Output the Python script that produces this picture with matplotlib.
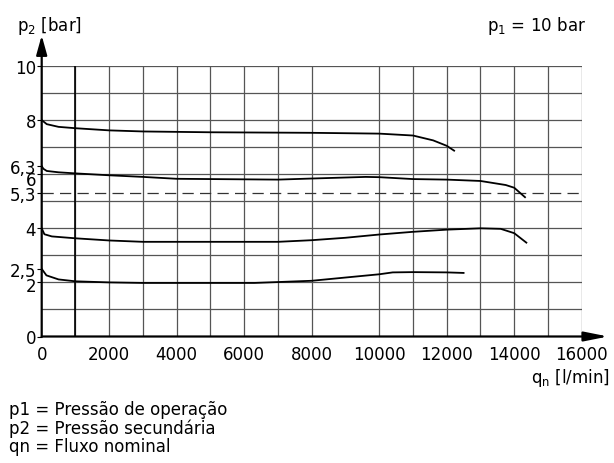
import matplotlib
matplotlib.use("Agg")
import matplotlib.pyplot as plt
from matplotlib.transforms import ScaledTranslation

plt.rcParams['font.family'] = ['DejaVu Sans']
plt.rcParams['mathtext.fontset'] = 'dejavusans'

# curves: flow q [l/min] vs secondary pressure p2 [bar]
q_8 = [0, 150, 500, 1000, 2000, 3000, 5000, 8000, 10000, 11000, 11600, 12000, 12220]
p_8 = [8.0, 7.85, 7.75, 7.7, 7.62, 7.58, 7.55, 7.53, 7.5, 7.43, 7.25, 7.05, 6.87]

q_6 = [0, 50, 150, 500, 1000, 2000, 3000, 4000, 7000, 8000, 9600, 10000, 11000,
       12000, 13000, 13750, 14000, 14320]
p_6 = [6.3, 6.2, 6.12, 6.07, 6.03, 5.96, 5.9, 5.83, 5.8, 5.84, 5.9, 5.89, 5.82,
       5.8, 5.75, 5.6, 5.5, 5.15]

q_4 = [0, 80, 300, 1000, 2000, 3000, 7000, 8000, 9000, 10000, 11000, 12000,
       13000, 13600, 14000, 14360]
p_4 = [4.0, 3.78, 3.7, 3.63, 3.55, 3.5, 3.5, 3.56, 3.65, 3.77, 3.87, 3.95,
       4.0, 3.98, 3.82, 3.47]

q_2 = [0, 140, 500, 1000, 2000, 3000, 6300, 8000, 9000, 10000, 10400, 11000, 12000, 12500]
p_2 = [2.5, 2.26, 2.11, 2.04, 2.0, 1.98, 1.98, 2.06, 2.18, 2.3, 2.37, 2.38, 2.37, 2.35]

curves = [(q_8, p_8), (q_6, p_6), (q_4, p_4), (q_2, p_2)]

y_ticks = [10, 8, 6.3, 6, 5.3, 4, 2.5, 2, 0]
y_labels = ["10", "8", "6,3", "6", "5,3", "4", "2,5", "2", "0"]
x_ticks = [0, 2000, 4000, 6000, 8000, 10000, 12000, 14000, 16000]
grid_x = [1000, 2000, 3000, 4000, 5000, 6000, 7000, 8000, 10000,
          11000, 12000, 13000, 14000, 15000, 16000]
grid_y = [1, 2, 3, 4, 5, 6, 7, 8, 9, 10]
dashed_level = 5.3

footnotes = ["p1 = Pressão de operação", "p2 = Pressão secundária", "qn = Fluxo nominal"]

fig = plt.figure(figsize=(6.14, 4.64), dpi=100)
ax = fig.add_axes([41.7 / 614, 126.5 / 464, 540 / 614, 270.5 / 464])
ax.set_xlim(0, 16000)
ax.set_ylim(0, 10)
for s in ax.spines.values():
    s.set_visible(False)

# grid
for gx in grid_x:
    ax.axvline(gx, color='#555555', lw=0.9, zorder=1)
for gy in grid_y:
    ax.axhline(gy, color='#555555', lw=0.9, zorder=1)
ax.axvline(1000, color='black', lw=1.2, zorder=2)
ax.axhline(dashed_level, color='#333333', lw=0.9, dashes=(9, 5), zorder=2)

for q, p in curves:
    ax.plot(q, p, color='black', lw=1.3, zorder=3)

# axes with arrows
ax.annotate('', xy=(0, 11.13), xytext=(0, 0), xycoords='data',
            arrowprops=dict(arrowstyle='-|>,head_length=0.9,head_width=0.25',
                            lw=1.6, color='black', shrinkA=0, shrinkB=0,
                            mutation_scale=13),
            annotation_clip=False, zorder=4)
ax.annotate('', xy=(16780, 0), xytext=(0, 0), xycoords='data',
            arrowprops=dict(arrowstyle='-|>,head_length=1.1,head_width=0.22',
                            lw=1.6, color='black', shrinkA=0, shrinkB=0,
                            mutation_scale=13),
            annotation_clip=False, zorder=4)

ax.set_yticks(y_ticks)
ax.set_yticklabels(y_labels)
ax.set_xticks(x_ticks)
ax.set_xticklabels([str(v) for v in x_ticks])
ax.tick_params(axis='y', length=3.5, width=0.8, pad=0.5, labelsize=12)
ax.tick_params(axis='x', length=0, pad=6, labelsize=12)
# nudge "6" and "2" a little down, as in the drawing
for idx, dy in [(3, -4), (7, -2)]:
    lab = ax.get_yticklabels()[idx]
    lab.set_transform(lab.get_transform() + ScaledTranslation(0, dy / 100, fig.dpi_scale_trans))

fig.text(17 / 614, 1 - 31 / 464, r"p$_\mathrm{2}$ [bar]", fontsize=12, va='baseline')
fig.text(586 / 614, 1 - 31 / 464, r"p$_\mathrm{1}$ = 10 bar", fontsize=12,
         va='baseline', ha='right')
fig.text(610 / 614, 1 - 383 / 464, r"q$_\mathrm{n}$ [l/min]", fontsize=12,
         va='baseline', ha='right')

for i, line in enumerate(footnotes):
    fig.text(9 / 614, 1 - (410 + 18.3 * i) / 464, line, fontsize=12, va='center')

fig.savefig("out.png", dpi=100)
